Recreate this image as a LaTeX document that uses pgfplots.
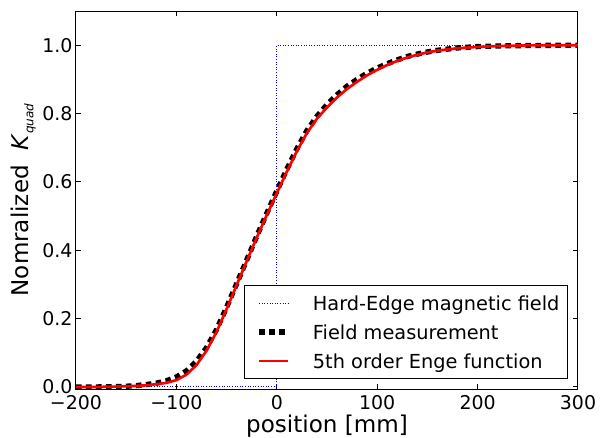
\documentclass[border=0pt]{standalone}
\usepackage{fontspec}
\setmainfont{DejaVu Sans}
\usepackage{pgfplots}
\pgfplotsset{compat=1.18}

% 5th order Enge fit of the quadrupole fringe field
\pgfplotstableread{
x y
-200 0.000
-180 0.000
-160 0.001
-150 0.002
-140 0.003
-130 0.005
-120 0.008
-110 0.012
-100 0.020
-90 0.036
-80 0.064
-70 0.106
-60 0.161
-50 0.228
-40 0.298
-30 0.368
-20 0.437
-10 0.503
0 0.567
10 0.630
20 0.690
30 0.743
40 0.785
50 0.818
60 0.847
70 0.872
80 0.893
90 0.912
100 0.928
110 0.942
120 0.954
130 0.964
140 0.972
150 0.979
160 0.984
180 0.991
200 0.995
225 0.998
250 0.9995
300 1.000
}\engetable

% measured field profile
\pgfplotstableread{
x y
-200 0.000
-180 0.000
-160 0.001
-150 0.002
-140 0.004
-130 0.007
-120 0.011
-110 0.018
-100 0.029
-90 0.047
-80 0.075
-70 0.115
-60 0.168
-50 0.233
-40 0.302
-30 0.371
-20 0.441
-10 0.508
0 0.573
10 0.637
20 0.697
30 0.750
40 0.792
50 0.826
60 0.855
70 0.880
80 0.900
90 0.918
100 0.933
110 0.946
120 0.957
130 0.967
140 0.974
150 0.980
160 0.985
180 0.992
200 0.996
225 0.998
250 0.999
300 1.000
}\meastable

\begin{document}
\begin{tikzpicture}
\begin{axis}[
  scale only axis, width=376.5pt, height=283.5pt,
  xmin=-200, xmax=300, ymin=-0.006, ymax=1.1,
  xtick={-200,-100,0,100,200,300},
  xticklabels={−200,−100,0,100,200,300},
  ytick={0,0.2,0.4,0.6,0.8,1.0},
  yticklabels={0.0,0.2,0.4,0.6,0.8,1.0},
  tick align=inside, xtick pos=both, ytick pos=both,
  major tick length=3.5pt,
  every tick/.style={black, line width=0.75pt},
  axis line style={black, line width=0.75pt},
  tick label style={font=\fontsize{14.2}{17}\selectfont},
  xticklabel style={anchor=north, inner sep=0pt, yshift=-5pt},
  yticklabel style={anchor=east, inner sep=0pt, xshift=-2.5pt},
  xlabel={position [mm]},
  xlabel style={font=\fontsize{17.3}{20}\selectfont, at={(axis description cs:0.5,-0.1138)}, anchor=base},
  ylabel={Nomralized\ \ \textit{K}\raisebox{-0.22em}{\fontsize{9}{10}\selectfont\itshape quad}},
  ylabel style={font=\fontsize{17.3}{20}\selectfont, at={(axis description cs:-0.0951,0.5)}, anchor=base, rotate=0},
  legend cell align=left,
  legend image code/.code={\draw[#1] (3pt,0pt) -- (24.75pt,0pt); \path (0pt,0pt) (24.75pt,0pt);},
  legend style={at={(axis description cs:1,0)}, anchor=south east, xshift=-7.5pt, yshift=7.5pt,
    draw=black, line width=0.75pt, fill=white, inner xsep=6pt, inner ysep=3pt,
    row sep=1.55pt, column sep=16.5pt,
    font=\fontsize{14.5}{17}\selectfont,
    nodes={inner sep=0pt, text height=15.5pt, text depth=4.7pt}},
]
\addplot[blue, line width=0.75pt, dash pattern=on 0.75pt off 1.2pt] coordinates {(-200,0) (0,0) (0,1) (300,1)};
\addlegendentry{Hard-Edge magnetic field}
\addplot[black, line width=4pt, dash pattern=on 4.2pt off 3.3pt] table {\meastable};
\addlegendentry{Field measurement}
\addplot[red, line width=2pt] table {\engetable};
\addlegendentry{5th order Enge function}
\end{axis}
\pgfresetboundingbox
\useasboundingbox (-57pt,-36pt) rectangle (393pt,291.75pt);
\end{tikzpicture}
\end{document}
